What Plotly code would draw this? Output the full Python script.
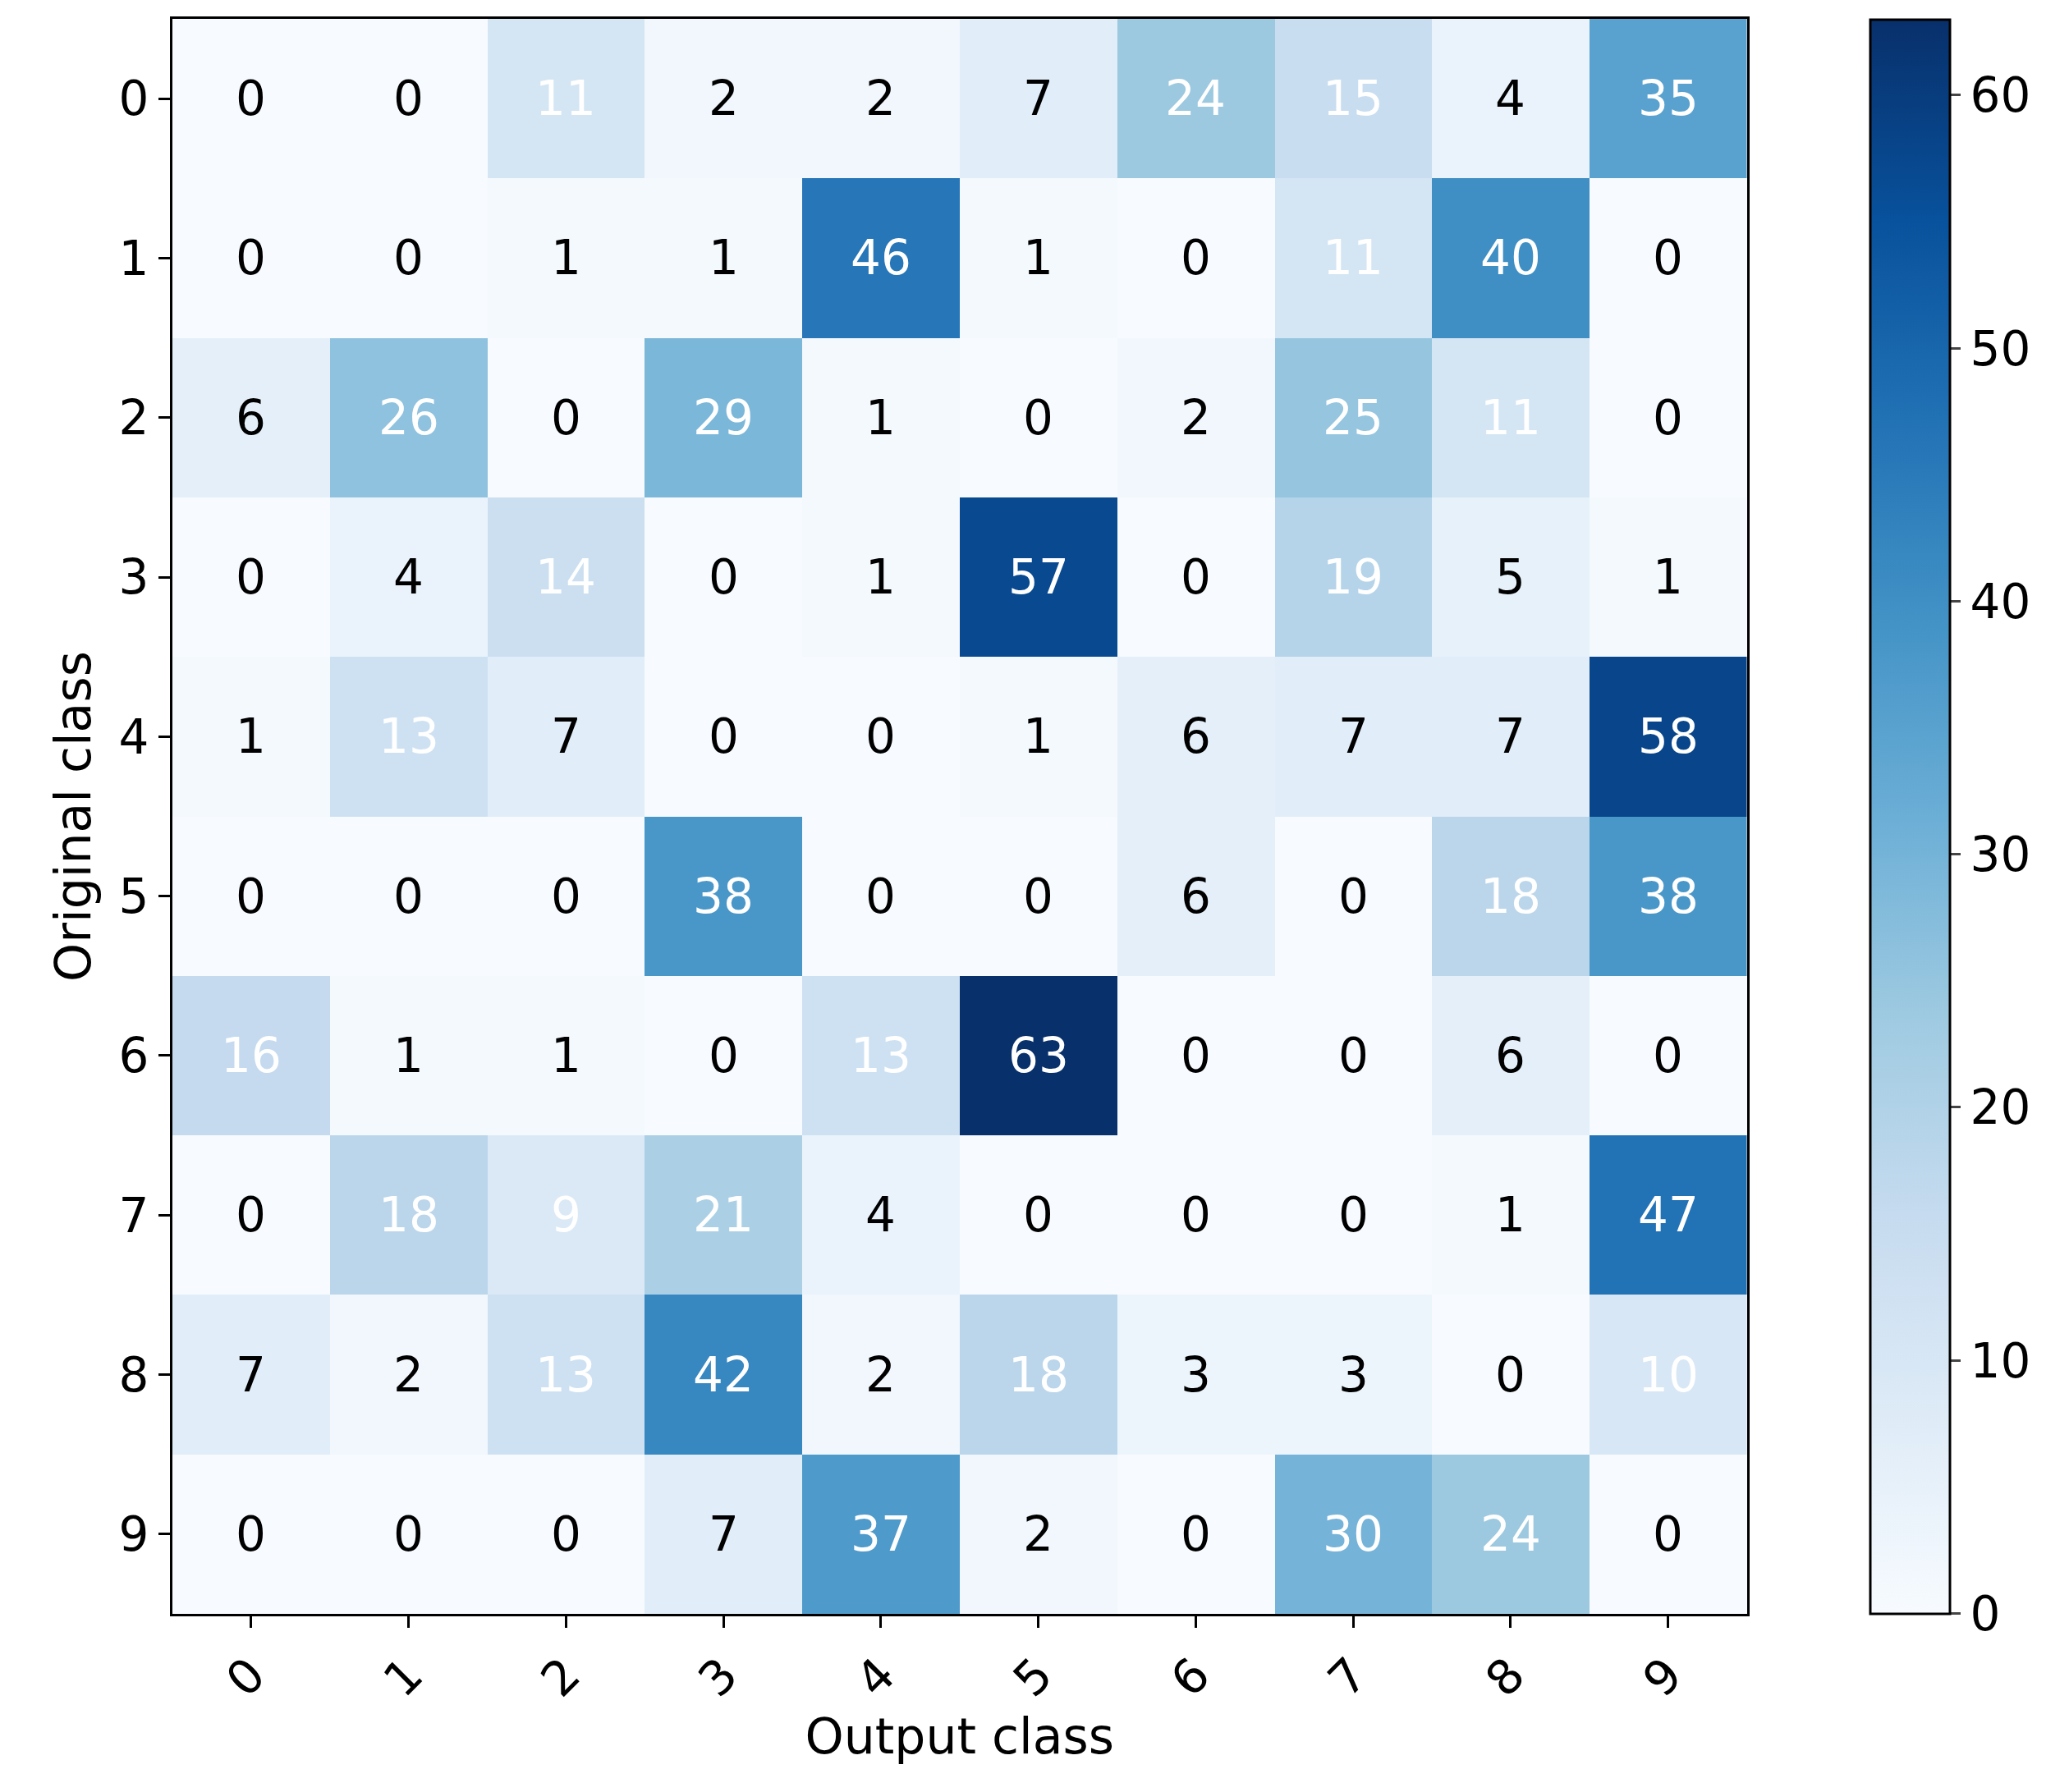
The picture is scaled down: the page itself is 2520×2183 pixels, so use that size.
import plotly.graph_objects as go

classes = ["0","1","2","3","4","5","6","7","8","9"]
matrix = [
    [0,0,11,2,2,7,24,15,4,35],
    [0,0,1,1,46,1,0,11,40,0],
    [6,26,0,29,1,0,2,25,11,0],
    [0,4,14,0,1,57,0,19,5,1],
    [1,13,7,0,0,1,6,7,7,58],
    [0,0,0,38,0,0,6,0,18,38],
    [16,1,1,0,13,63,0,0,6,0],
    [0,18,9,21,4,0,0,0,1,47],
    [7,2,13,42,2,18,3,3,0,10],
    [0,0,0,7,37,2,0,30,24,0],
]
cb_ticks = [0,10,20,30,40,50,60]

blues = [[0.0,"#f7fbff"],[0.125,"#deebf7"],[0.25,"#c6dbef"],[0.375,"#9ecae1"],
         [0.5,"#6baed6"],[0.625,"#4292c6"],[0.75,"#2171b5"],[0.875,"#08519c"],[1.0,"#08306b"]]

fig = go.Figure(go.Heatmap(
    z=matrix, x=classes, y=classes, colorscale=blues, zmin=0, zmax=63,
    colorbar=dict(tickvals=cb_ticks, ticks="outside", ticklen=12, tickwidth=3,
                  tickfont=dict(size=58, family="DejaVu Sans", color="black"),
                  outlinewidth=3, outlinecolor="black", thickness=97,
                  len=1942, lenmode="pixels", y=0.5, yanchor="middle",
                  x=0.947, xanchor="left", xpad=0, ypad=0),
))
for i, row in enumerate(matrix):
    for j, v in enumerate(row):
        fig.add_annotation(x=classes[j], y=classes[i], text=str(v), showarrow=False,
                           font=dict(size=58, family="DejaVu Sans",
                                     color="white" if v >= 9 else "black"))

fig.update_xaxes(title=dict(text="Output class", font=dict(size=60, family="DejaVu Sans", color="black")),
                 tickangle=-45, ticks="outside", ticklen=14, tickwidth=3, tickcolor="black",
                 tickfont=dict(size=58, family="DejaVu Sans", color="black"),
                 showline=True, linecolor="black", linewidth=3, mirror=True, domain=[0, 0.878])
fig.update_yaxes(title=dict(text="Original class", font=dict(size=60, family="DejaVu Sans", color="black")),
                 autorange="reversed", ticks="outside", ticklen=14, tickwidth=3, tickcolor="black",
                 tickfont=dict(size=58, family="DejaVu Sans", color="black"),
                 showline=True, linecolor="black", linewidth=3, mirror=True)
fig.update_layout(width=2520, height=2183, plot_bgcolor="white", paper_bgcolor="white",
                  margin=dict(l=202, r=134, t=15, b=225))
fig.write_html("out.html")
